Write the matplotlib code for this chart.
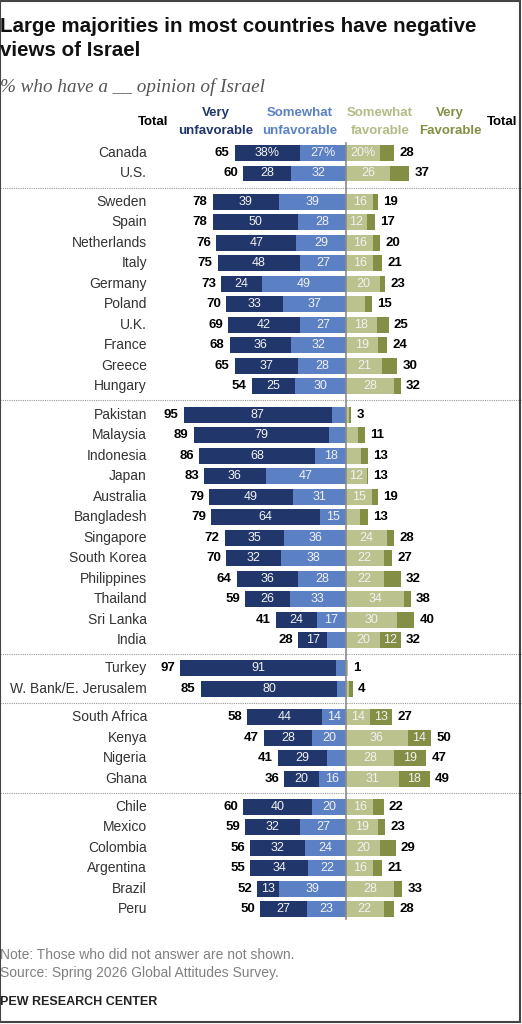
import numpy as np
import matplotlib
matplotlib.use("Agg")
import matplotlib.pyplot as plt
from matplotlib.patches import Rectangle

countries = ["Canada", "U.S.",
             "Sweden", "Spain", "Netherlands", "Italy", "Germany", "Poland",
             "U.K.", "France", "Greece", "Hungary",
             "Pakistan", "Malaysia", "Indonesia", "Japan", "Australia",
             "Bangladesh", "Singapore", "South Korea", "Philippines",
             "Thailand", "Sri Lanka", "India",
             "Turkey", "W. Bank/E. Jerusalem",
             "South Africa", "Kenya", "Nigeria", "Ghana",
             "Chile", "Mexico", "Colombia", "Argentina", "Brazil", "Peru"]
very_unfav = [38, 28,
              39, 50, 47, 48, 24, 33, 42, 36, 37, 25,
              87, 79, 68, 36, 49, 64, 35, 32, 36, 26, 24, 17,
              91, 80,
              44, 28, 29, 20,
              40, 32, 32, 34, 13, 27]
somewhat_unfav = [27, 32,
                  39, 28, 29, 27, 49, 37, 27, 32, 28, 30,
                  8, 10, 18, 47, 31, 15, 36, 38, 28, 33, 17, 11,
                  6, 5,
                  14, 20, 11, 16,
                  20, 27, 24, 22, 39, 23]
somewhat_fav = [20, 26,
                16, 12, 16, 16, 20, 11, 18, 19, 21, 28,
                2, 7, 9, 12, 15, 8, 24, 22, 22, 34, 30, 20,
                1, 2,
                14, 36, 28, 31,
                16, 19, 20, 16, 28, 22]
very_fav = [8, 11,
            3, 5, 4, 5, 3, 4, 7, 5, 9, 4,
            1, 4, 4, 1, 4, 5, 4, 5, 10, 4, 10, 12,
            0, 2,
            13, 14, 19, 18,
            6, 4, 9, 5, 5, 6]
total_unfav = [65, 60,
               78, 78, 76, 75, 73, 70, 69, 68, 65, 54,
               95, 89, 86, 83, 79, 79, 72, 70, 64, 59, 41, 28,
               97, 85,
               58, 47, 41, 36,
               60, 59, 56, 55, 52, 50]
total_fav = [28, 37,
             19, 17, 20, 21, 23, 15, 25, 24, 30, 32,
             3, 11, 13, 13, 19, 13, 28, 27, 32, 38, 40, 32,
             1, 4,
             27, 50, 47, 49,
             22, 23, 29, 21, 33, 28]
group_sizes = [2, 10, 12, 2, 4, 6]

C_VU = "#21366a"
C_SU = "#5b80c4"
C_SF = "#bbc28e"
C_VF = "#858e45"

W, H = 522, 1024
px_unit = 1.71     # pixels per percentage point
center_px = 346
row_px = 20.5
top_px = 153
gap = 0.38


def xd(px):
    return (px - center_px) / px_unit


def yd(py):
    return (py - top_px) / row_px


# row positions with a gap between groups
y = []
pos = 0.0
for g, n in enumerate(group_sizes):
    for i in range(n):
        y.append(pos)
        pos += 1
    pos += gap
y = np.array(y)

plt.rcParams['font.family'] = ['Liberation Sans', 'DejaVu Sans']
fig = plt.figure(figsize=(W / 100, H / 100), dpi=100)
ax = fig.add_axes([0, 0, 1, 1])
ax.set_xlim(xd(0), xd(W))
ax.set_ylim(yd(H), yd(0))
ax.axis('off')

vu = np.array(very_unfav)
su = np.array(somewhat_unfav)
sf = np.array(somewhat_fav)
vf = np.array(very_fav)
bh = 0.78

ax.barh(y, su, left=-su, height=bh, color=C_SU, zorder=2)
ax.barh(y, vu, left=-(su + vu), height=bh, color=C_VU, zorder=2)
ax.barh(y, sf, left=0, height=bh, color=C_SF, zorder=2)
ax.barh(y, vf, left=sf, height=bh, color=C_VF, zorder=2)

for i in range(len(countries)):
    suffix = "%" if i == 0 else ""
    for val, mid in [(vu[i], -su[i] - vu[i] / 2), (su[i], -su[i] / 2),
                     (sf[i], sf[i] / 2), (vf[i], sf[i] + vf[i] / 2)]:
        if val >= 12:
            ax.text(mid, y[i], f"{val}{suffix}", ha='center', va='center',
                    color='#f2f2f2', fontsize=9, zorder=3)
    ax.text(xd(147), y[i], countries[i], ha='right', va='center',
            fontsize=10, color='#333333')
    ax.text(-(su[i] + vu[i]) - 3, y[i], str(total_unfav[i]), ha='right',
            va='center', fontsize=9.5, fontweight='bold', color='black')
    ax.text(sf[i] + vf[i] + 3, y[i], str(total_fav[i]), ha='left',
            va='center', fontsize=9.5, fontweight='bold', color='black')

# dotted separators between groups
ends = np.cumsum(group_sizes)[:-1]
for e in ends:
    sep = (y[e - 1] + y[e]) / 2
    ax.plot([xd(0), xd(W)], [sep, sep], color='#999999', lw=0.8,
            ls=(0, (1, 1)), zorder=1)

# center line
ax.plot([0, 0], [yd(143), yd(919)], color='#8a8a8a', lw=1.2, zorder=4)

# column headers
hy1, hy2 = yd(113), yd(131)
ax.text(xd(168), yd(122), "Total", ha='right', va='center', fontsize=9.5,
        fontweight='bold', color='black')
ax.text(xd(487), yd(122), "Total", ha='left', va='center', fontsize=9.5,
        fontweight='bold', color='black')
for cx, l1, l2, c in [(216, "Very", "unfavorable", C_VU),
                      (300, "Somewhat", "unfavorable", C_SU),
                      (380, "Somewhat", "favorable", "#b3bb84"),
                      (450, "Very", "Favorable", C_VF)]:
    ax.text(xd(cx), hy1, l1, ha='center', va='center', fontsize=9.5,
            fontweight='bold', color=c)
    ax.text(xd(cx), hy2, l2, ha='center', va='center', fontsize=9.5,
            fontweight='bold', color=c)

# title, subtitle, notes
fig.text(0.0, 1 - 26 / H, "Large majorities in most countries have negative",
         ha='left', va='center', fontsize=14.8, fontweight='bold', color='#111111')
fig.text(0.0, 1 - 50 / H, "views of Israel", ha='left', va='center',
         fontsize=14.8, fontweight='bold', color='#111111')
fig.text(0.0, 1 - 87 / H, "% who have a __ opinion of Israel", ha='left',
         va='center', fontsize=13.8, style='italic', color='#555555',
         family=['Liberation Serif', 'DejaVu Serif'])
fig.text(0.0, 1 - 955 / H, "Note: Those who did not answer are not shown.",
         ha='left', va='center', fontsize=10, color='#808080')
fig.text(0.0, 1 - 973 / H, "Source: Spring 2026 Global Attitudes Survey.",
         ha='left', va='center', fontsize=10, color='#808080')
fig.text(0.0, 1 - 1002 / H, "PEW RESEARCH CENTER", ha='left', va='center',
         fontsize=9, fontweight='bold', color='#222222')

fig.patches.append(Rectangle((0, 0.002), 0.996, 0.997, transform=fig.transFigure,
                             fill=False, edgecolor='#444444', lw=1.5))

fig.savefig("out.png", dpi=100)
